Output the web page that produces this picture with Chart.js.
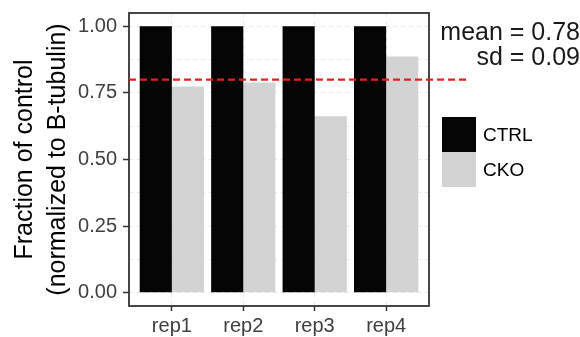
<!DOCTYPE html>
<html><head><meta charset="utf-8">
<script src="https://cdn.jsdelivr.net/npm/chart.js@4/dist/chart.umd.min.js"></script>
<style>html,body{margin:0;padding:0;background:#fff;overflow:hidden}</style>
</head><body>
<canvas id="c" width="580" height="337"></canvas>
<script>
// ---- data ----
const categories = ['rep1', 'rep2', 'rep3', 'rep4'];
const seriesNames = ['CTRL', 'CKO'];
const ctrlValues = [1.00, 1.00, 1.00, 1.00];
const ckoValues = [0.774, 0.789, 0.662, 0.887];
const meanLine = 0.80;
const yMajorTicks = [0, 0.25, 0.5, 0.75, 1.0];
const yMinorTicks = [0.125, 0.375, 0.625, 0.875];
const annotationLines = ['mean = 0.78', 'sd = 0.09'];
const yTitle = ['Fraction of control', '(normalized to B-tubulin)'];

// ---- style ----
const FONT = "'Liberation Sans', Arial, Helvetica, sans-serif";
const COLORS = ['#050505', '#d3d3d3'];
const GRID = '#e8e8e8';
const AXIS = '#333333';

const isMajor = v => yMajorTicks.some(t => Math.abs(t - v) < 1e-9);

const extrasPlugin = {
  id: 'extras',
  afterDraw(chart) {
    const { ctx, chartArea: a, scales: { y } } = chart;
    ctx.save();
    // panel border
    ctx.strokeStyle = AXIS; ctx.lineWidth = 1.8; ctx.setLineDash([]);
    ctx.strokeRect(a.left, a.top, a.right - a.left, a.bottom - a.top);
    // red dashed reference line
    const py = y.getPixelForValue(meanLine);
    ctx.strokeStyle = '#e3211c'; ctx.lineWidth = 2.4; ctx.setLineDash([7, 4]);
    ctx.beginPath(); ctx.moveTo(a.left, py); ctx.lineTo(a.right + 38, py); ctx.stroke();
    ctx.setLineDash([]);
    // annotation
    ctx.fillStyle = '#1a1a1a'; ctx.font = '25px ' + FONT;
    ctx.textAlign = 'right'; ctx.textBaseline = 'alphabetic';
    annotationLines.forEach((t, i) => ctx.fillText(t, chart.width, a.top + 27 + i * 25));
    // legend
    const kx = a.right + 13, ky = a.top + 104, ks = 35;
    seriesNames.forEach((name, i) => {
      ctx.fillStyle = COLORS[i];
      ctx.fillRect(kx, ky + i * ks, 34, ks);
      ctx.fillStyle = '#000'; ctx.font = '19px ' + FONT;
      ctx.textAlign = 'left'; ctx.textBaseline = 'middle';
      ctx.fillText(name, kx + 41, ky + i * ks + ks / 2 + 1);
    });
    ctx.restore();
  }
};

new Chart(document.getElementById('c'), {
  type: 'bar',
  data: {
    datasets: [
      { label: seriesNames[0], data: categories.map((c, i) => ({ x: i + 1, y: ctrlValues[i] })), backgroundColor: COLORS[0], borderWidth: 0 },
      { label: seriesNames[1], data: categories.map((c, i) => ({ x: i + 1, y: ckoValues[i] })), backgroundColor: COLORS[1], borderWidth: 0 }
    ]
  },
  options: {
    responsive: false,
    animation: false,
    devicePixelRatio: 1,
    categoryPercentage: 0.9,
    barPercentage: 1.0,
    layout: { padding: { top: 13, right: 151, bottom: 0, left: 0 } },
    plugins: { legend: { display: false }, tooltip: { enabled: false } },
    scales: {
      x: {
        type: 'linear', min: 0.4, max: 4.6, offset: false,
        afterBuildTicks: s => { s.ticks = categories.map((c, i) => ({ value: i + 1 })); },
        afterFit: s => { s.height = 31; s.paddingLeft = 0; s.paddingRight = 0; },
        ticks: {
          autoSkip: false, maxRotation: 0, padding: 3,
          color: '#404040', font: { family: FONT, size: 20 },
          callback: v => categories[Math.round(v) - 1]
        },
        grid: { offset: false, color: GRID, lineWidth: 1, tickLength: 5, tickColor: AXIS, tickWidth: 1.5 },
        border: { display: false, dash: [4, 4] }
      },
      y: {
        type: 'linear', min: -0.05, max: 1.05,
        afterBuildTicks: s => { s.ticks = yMajorTicks.concat(yMinorTicks).sort((p, q) => p - q).map(v => ({ value: v })); },
        afterFit: s => { s.width = 129; s.paddingTop = 0; s.paddingBottom = 0; },
        ticks: {
          padding: 6, color: '#404040', font: { family: FONT, size: 20 },
          callback: v => isMajor(v) ? v.toFixed(2) : ''
        },
        grid: {
          color: GRID, lineWidth: 1, tickLength: 6, tickWidth: 1.5,
          tickColor: ctx => (ctx.tick && isMajor(ctx.tick.value)) ? AXIS : 'rgba(0,0,0,0)'
        },
        border: { display: false, dash: [4, 4] },
        title: {
          display: true, text: yTitle, color: '#000',
          font: { family: FONT, size: 25, lineHeight: 1.3 },
          padding: { top: 9, bottom: 0 }
        }
      }
    }
  },
  plugins: [extrasPlugin]
});
</script>
</body></html>
